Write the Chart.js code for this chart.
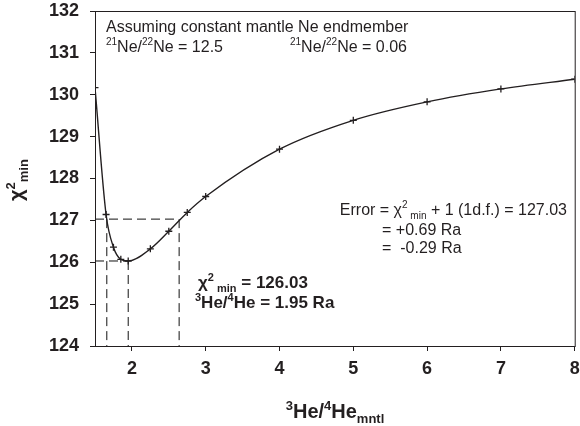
<!DOCTYPE html>
<html>
<head>
<meta charset="utf-8">
<script src="https://cdn.jsdelivr.net/npm/chart.js@4.4.1/dist/chart.umd.min.js"></script>
<style>
  html, body { margin: 0; padding: 0; background: #fff; overflow: hidden; }
  #wrap { position: relative; width: 580px; height: 426px; }
</style>
</head>
<body>
<div id="wrap"><canvas id="chiChart"></canvas></div>
<script>
// mantle 3He/4He tested and the resulting chi-square
const heRatio = [1.5, 1.65, 1.75, 1.85, 1.95, 2.25, 2.5, 2.75, 3, 4, 5, 6, 7, 8];
const chiSq = [130.17, 127.14, 126.36, 126.07, 126.03, 126.32, 126.74, 127.19, 127.57, 128.70, 129.39, 129.83, 130.14, 130.37];

const xTicks = [2, 3, 4, 5, 6, 7, 8];
const yTicks = [124, 125, 126, 127, 128, 129, 130, 131, 132];

// best fit and 1 d.f. error envelope
const bestRatio = 1.95;
const chiMin = 126.03;
const chiErr = 127.03;
const errPlus = 0.69;
const errMinus = 0.29;

const FONT = "'Liberation Sans', Arial, Helvetica, sans-serif";
const INK = '#231f20';

const lowRatio = +(bestRatio - errMinus).toFixed(2);
const highRatio = +(bestRatio + errPlus).toFixed(2);
const xMin = 1.5, xMax = 8;
const yMin = yTicks[0], yMax = yTicks[yTicks.length - 1];

function guide(points) {
  return {
    data: points.map(p => ({x: p[0], y: p[1]})),
    borderColor: '#111',
    borderWidth: 1,
    borderDash: [9, 5],
    pointRadius: 0,
    tension: 0,
    fill: false
  };
}

// draw a string made of normal / superscript / subscript pieces
function drawRuns(ctx, x, y, runs, size, weight, align) {
  const small = Math.round(size * 0.64);
  const pieces = runs.map(r => {
    const s = r.sup || r.sub ? small : size;
    ctx.font = `${weight} ${s}px ${FONT}`;
    return {r, s, w: ctx.measureText(r.t).width};
  });
  const total = pieces.reduce((a, p) => a + p.w, 0);
  let cx = align === 'center' ? x - total / 2 : align === 'right' ? x - total : x;
  ctx.textAlign = 'left';
  ctx.textBaseline = 'alphabetic';
  pieces.forEach(p => {
    ctx.font = `${weight} ${p.s}px ${FONT}`;
    let dy = 0;
    if (p.r.sup) dy = -size * 0.42;
    if (p.r.sub) dy = size * 0.26;
    ctx.fillText(p.r.t, cx, y + dy);
    cx += p.w;
  });
}

const labelsPlugin = {
  id: 'labels',
  afterDraw(chart) {
    const {ctx, chartArea: a} = chart;
    ctx.save();
    ctx.strokeStyle = INK;
    ctx.lineWidth = 1;
    ctx.strokeRect(a.left + 0.5, a.top + 0.5, a.right - a.left, a.bottom - a.top);

    ctx.fillStyle = INK;
    drawRuns(ctx, 106, 32, [{t: 'Assuming constant mantle Ne endmember'}], 16, 'normal');
    drawRuns(ctx, 106, 52, [{t: '21', sup: true}, {t: 'Ne/'}, {t: '22', sup: true}, {t: 'Ne = 12.5'}], 16, 'normal');
    drawRuns(ctx, 290, 52, [{t: '21', sup: true}, {t: 'Ne/'}, {t: '22', sup: true}, {t: 'Ne = 0.06'}], 16, 'normal');

    drawRuns(ctx, 567, 215, [{t: 'Error = χ'}, {t: '2', sup: true}, {t: ' min', sub: true}, {t: ' + 1 (1d.f.) = ' + chiErr.toFixed(2)}], 16, 'normal', 'right');
    drawRuns(ctx, 382, 235, [{t: '= +' + errPlus.toFixed(2) + ' Ra'}], 16, 'normal');
    drawRuns(ctx, 382, 253, [{t: '=  -' + errMinus.toFixed(2) + ' Ra'}], 16, 'normal');

    drawRuns(ctx, 198, 288, [{t: 'χ'}, {t: '2', sup: true}, {t: ' min', sub: true}, {t: ' = ' + chiMin.toFixed(2)}], 17, 'bold');
    drawRuns(ctx, 195, 308, [{t: '3', sup: true}, {t: 'He/'}, {t: '4', sup: true}, {t: 'He = ' + bestRatio.toFixed(2) + ' Ra'}], 17, 'bold');

    // axis titles
    drawRuns(ctx, 335, 418, [{t: '3', sup: true}, {t: 'He/'}, {t: '4', sup: true}, {t: 'He'}, {t: 'mntl', sub: true}], 20, 'bold', 'center');
    ctx.translate(23, 180);
    ctx.rotate(-Math.PI / 2);
    drawRuns(ctx, 0, 0, [{t: 'χ'}, {t: '2', sup: true}, {t: 'min', sub: true}], 20, 'bold', 'center');
    ctx.restore();
  }
};

new Chart(document.getElementById('chiChart'), {
  type: 'line',
  data: {
    datasets: [
      {
        data: heRatio.map((x, i) => ({x, y: chiSq[i]})),
        borderColor: INK,
        borderWidth: 1.4,
        cubicInterpolationMode: 'monotone',
        pointStyle: 'cross',
        pointRadius: 3.5,
        pointBorderWidth: 1.3,
        pointBorderColor: INK,
        fill: false
      },
      guide([[xMin, chiErr], [highRatio, chiErr]]),
      guide([[xMin, chiMin], [bestRatio, chiMin]]),
      guide([[lowRatio, chiErr], [lowRatio, yMin]]),
      guide([[bestRatio, chiMin], [bestRatio, yMin]]),
      guide([[highRatio, chiErr], [highRatio, yMin]])
    ]
  },
  options: {
    responsive: true,
    maintainAspectRatio: false,
    animation: false,
    layout: { padding: { top: 11, right: 2, left: 0, bottom: 0 } },
    plugins: { legend: { display: false }, tooltip: { enabled: false } },
    scales: {
      x: {
        type: 'linear',
        min: xMin,
        max: xMax,
        afterBuildTicks: scale => { scale.ticks = xTicks.map(v => ({value: v})); },
        // fixed axis band; the last label may run past the edge
        afterFit: scale => { scale.height = 80; scale.paddingLeft = 0; scale.paddingRight = 0; },
        grid: { drawOnChartArea: false, tickLength: 5, color: INK },
        border: { color: INK },
        ticks: { color: INK, padding: 7, font: { family: FONT, size: 18, weight: 'bold' } }
      },
      y: {
        min: yMin,
        max: yMax,
        afterBuildTicks: scale => { scale.ticks = yTicks.map(v => ({value: v})); },
        afterFit: scale => { scale.width = 95; scale.paddingTop = 0; scale.paddingBottom = 0; },
        grid: { drawOnChartArea: false, tickLength: 5, color: INK },
        border: { color: INK },
        ticks: { color: INK, padding: 11, font: { family: FONT, size: 18, weight: 'bold' } }
      }
    }
  },
  plugins: [labelsPlugin]
});
</script>
</body>
</html>
